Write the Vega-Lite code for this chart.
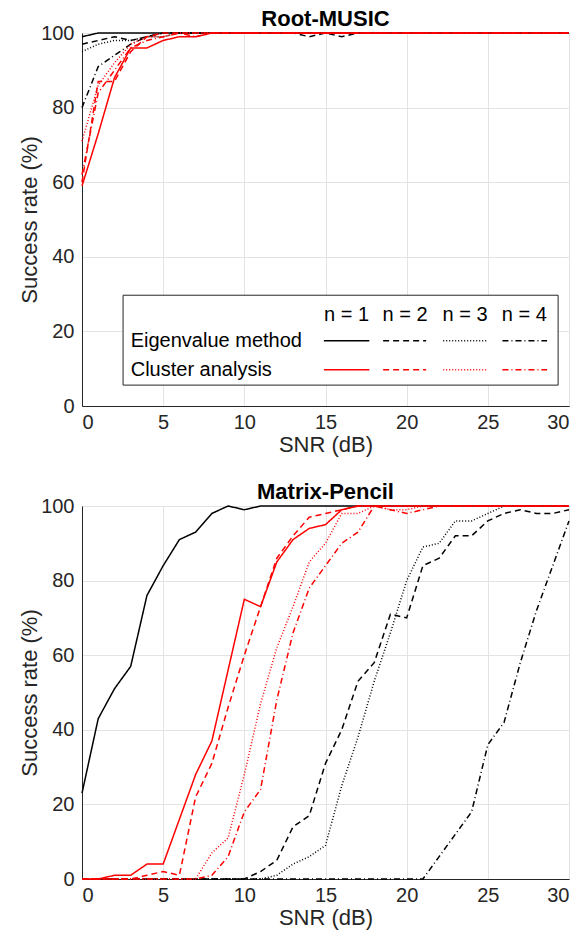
{
  "$schema": "https://vega.github.io/schema/vega-lite/v6.json",
  "padding": {"left": 18, "top": 7, "right": 5, "bottom": 5},
  "background": "white",
  "config": {
    "font": "Liberation Sans",
    "view": {"stroke": "#262626", "strokeWidth": 1},
    "axis": {
      "labelFont": "Liberation Sans", "labelFontSize": 20, "labelColor": "#262626",
      "titleFont": "Liberation Sans", "titleFontSize": 22, "titleFontWeight": "normal", "titleColor": "#262626",
      "gridColor": "#e3e3e3", "domainColor": "#262626", "ticks": false, "labelPadding": 8
    },
    "axisY": {"titlePadding": -1},
    "axisX": {"titlePadding": 2, "labelPadding": 6},
    "title": {"font": "Liberation Sans", "fontSize": 22, "fontWeight": "bold", "color": "#000000", "offset": -8},
    "concat": {"spacing": 24}
  },
  "datasets": {
    "music": [
      {"snr": 0, "E1": 99, "E2": 97, "E3": 95, "E4": 80, "C1": 59, "C2": 60, "C3": 71, "C4": 62},
      {"snr": 1, "E1": 100, "E2": 98, "E3": 97, "E4": 91, "C1": 73, "C2": 87, "C3": 86, "C4": 84},
      {"snr": 2, "E1": 100, "E2": 99, "E3": 98, "E4": 94, "C1": 88, "C2": 87, "C3": 92, "C4": 90},
      {"snr": 3, "E1": 100, "E2": 98, "E3": 98, "E4": 97, "C1": 96, "C2": 95, "C3": 97, "C4": 96},
      {"snr": 4, "E1": 100, "E2": 99, "E3": 99, "E4": 99, "C1": 96, "C2": 99, "C3": 99, "C4": 98},
      {"snr": 5, "E1": 100, "E2": 100, "E3": 99, "E4": 100, "C1": 98, "C2": 100, "C3": 99, "C4": 99},
      {"snr": 6, "E1": 100, "E2": 100, "E3": 100, "E4": 100, "C1": 99, "C2": 100, "C3": 100, "C4": 100},
      {"snr": 7, "E1": 100, "E2": 100, "E3": 100, "E4": 100, "C1": 99, "C2": 100, "C3": 100, "C4": 99},
      {"snr": 8, "E1": 100, "E2": 100, "E3": 100, "E4": 100, "C1": 100, "C2": 100, "C3": 100, "C4": 100},
      {"snr": 9, "E1": 100, "E2": 100, "E3": 100, "E4": 100, "C1": 100, "C2": 100, "C3": 100, "C4": 100},
      {"snr": 10, "E1": 100, "E2": 100, "E3": 100, "E4": 100, "C1": 100, "C2": 100, "C3": 100, "C4": 100},
      {"snr": 11, "E1": 100, "E2": 100, "E3": 100, "E4": 100, "C1": 100, "C2": 100, "C3": 100, "C4": 100},
      {"snr": 12, "E1": 100, "E2": 100, "E3": 100, "E4": 100, "C1": 100, "C2": 100, "C3": 100, "C4": 100},
      {"snr": 13, "E1": 100, "E2": 100, "E3": 100, "E4": 100, "C1": 100, "C2": 100, "C3": 100, "C4": 100},
      {"snr": 14, "E1": 100, "E2": 99, "E3": 100, "E4": 100, "C1": 100, "C2": 100, "C3": 100, "C4": 100},
      {"snr": 15, "E1": 100, "E2": 100, "E3": 100, "E4": 100, "C1": 100, "C2": 100, "C3": 100, "C4": 100},
      {"snr": 16, "E1": 100, "E2": 99, "E3": 100, "E4": 100, "C1": 100, "C2": 100, "C3": 100, "C4": 100},
      {"snr": 17, "E1": 100, "E2": 100, "E3": 100, "E4": 100, "C1": 100, "C2": 100, "C3": 100, "C4": 100},
      {"snr": 18, "E1": 100, "E2": 100, "E3": 100, "E4": 100, "C1": 100, "C2": 100, "C3": 100, "C4": 100},
      {"snr": 19, "E1": 100, "E2": 100, "E3": 100, "E4": 100, "C1": 100, "C2": 100, "C3": 100, "C4": 100},
      {"snr": 20, "E1": 100, "E2": 100, "E3": 100, "E4": 100, "C1": 100, "C2": 100, "C3": 100, "C4": 100},
      {"snr": 21, "E1": 100, "E2": 100, "E3": 100, "E4": 100, "C1": 100, "C2": 100, "C3": 100, "C4": 100},
      {"snr": 22, "E1": 100, "E2": 100, "E3": 100, "E4": 100, "C1": 100, "C2": 100, "C3": 100, "C4": 100},
      {"snr": 23, "E1": 100, "E2": 100, "E3": 100, "E4": 100, "C1": 100, "C2": 100, "C3": 100, "C4": 100},
      {"snr": 24, "E1": 100, "E2": 100, "E3": 100, "E4": 100, "C1": 100, "C2": 100, "C3": 100, "C4": 100},
      {"snr": 25, "E1": 100, "E2": 100, "E3": 100, "E4": 100, "C1": 100, "C2": 100, "C3": 100, "C4": 100},
      {"snr": 26, "E1": 100, "E2": 100, "E3": 100, "E4": 100, "C1": 100, "C2": 100, "C3": 100, "C4": 100},
      {"snr": 27, "E1": 100, "E2": 100, "E3": 100, "E4": 100, "C1": 100, "C2": 100, "C3": 100, "C4": 100},
      {"snr": 28, "E1": 100, "E2": 100, "E3": 100, "E4": 100, "C1": 100, "C2": 100, "C3": 100, "C4": 100},
      {"snr": 29, "E1": 100, "E2": 100, "E3": 100, "E4": 100, "C1": 100, "C2": 100, "C3": 100, "C4": 100},
      {"snr": 30, "E1": 100, "E2": 100, "E3": 100, "E4": 100, "C1": 100, "C2": 100, "C3": 100, "C4": 100}
    ],
    "pencil": [
      {"snr": 0, "E1": 23, "E2": 0, "E3": 0, "E4": 0, "C1": 0, "C2": 0, "C3": 0, "C4": 0},
      {"snr": 1, "E1": 43, "E2": 0, "E3": 0, "E4": 0, "C1": 0, "C2": 0, "C3": 0, "C4": 0},
      {"snr": 2, "E1": 51, "E2": 0, "E3": 0, "E4": 0, "C1": 1, "C2": 0, "C3": 0, "C4": 0},
      {"snr": 3, "E1": 57, "E2": 0, "E3": 0, "E4": 0, "C1": 1, "C2": 0, "C3": 0, "C4": 0},
      {"snr": 4, "E1": 76, "E2": 0, "E3": 0, "E4": 0, "C1": 4, "C2": 1, "C3": 0, "C4": 0},
      {"snr": 5, "E1": 84, "E2": 0, "E3": 0, "E4": 0, "C1": 4, "C2": 2, "C3": 0, "C4": 0},
      {"snr": 6, "E1": 91, "E2": 0, "E3": 0, "E4": 0, "C1": 16, "C2": 1, "C3": 0, "C4": 0},
      {"snr": 7, "E1": 93, "E2": 0, "E3": 0, "E4": 0, "C1": 28, "C2": 22, "C3": 0, "C4": 0},
      {"snr": 8, "E1": 98, "E2": 0, "E3": 0, "E4": 0, "C1": 37, "C2": 31, "C3": 7, "C4": 1},
      {"snr": 9, "E1": 100, "E2": 0, "E3": 0, "E4": 0, "C1": 56, "C2": 46, "C3": 11, "C4": 6},
      {"snr": 10, "E1": 99, "E2": 0, "E3": 0, "E4": 0, "C1": 75, "C2": 60, "C3": 28, "C4": 18},
      {"snr": 11, "E1": 100, "E2": 2, "E3": 0, "E4": 0, "C1": 73, "C2": 73, "C3": 47, "C4": 24},
      {"snr": 12, "E1": 100, "E2": 5, "E3": 1, "E4": 0, "C1": 85, "C2": 86, "C3": 62, "C4": 48},
      {"snr": 13, "E1": 100, "E2": 14, "E3": 4, "E4": 0, "C1": 91, "C2": 92, "C3": 73, "C4": 66},
      {"snr": 14, "E1": 100, "E2": 17, "E3": 6, "E4": 0, "C1": 94, "C2": 97, "C3": 85, "C4": 78},
      {"snr": 15, "E1": 100, "E2": 31, "E3": 9, "E4": 0, "C1": 95, "C2": 98, "C3": 90, "C4": 84},
      {"snr": 16, "E1": 100, "E2": 40, "E3": 25, "E4": 0, "C1": 99, "C2": 99, "C3": 98, "C4": 90},
      {"snr": 17, "E1": 100, "E2": 53, "E3": 38, "E4": 0, "C1": 100, "C2": 100, "C3": 98, "C4": 93},
      {"snr": 18, "E1": 100, "E2": 58, "E3": 53, "E4": 0, "C1": 100, "C2": 100, "C3": 100, "C4": 100},
      {"snr": 19, "E1": 100, "E2": 71, "E3": 66, "E4": 0, "C1": 100, "C2": 100, "C3": 99, "C4": 99},
      {"snr": 20, "E1": 100, "E2": 70, "E3": 80, "E4": 0, "C1": 100, "C2": 100, "C3": 99, "C4": 98},
      {"snr": 21, "E1": 100, "E2": 84, "E3": 89, "E4": 0, "C1": 100, "C2": 100, "C3": 100, "C4": 99},
      {"snr": 22, "E1": 100, "E2": 86, "E3": 90, "E4": 6, "C1": 100, "C2": 100, "C3": 100, "C4": 100},
      {"snr": 23, "E1": 100, "E2": 92, "E3": 96, "E4": 12, "C1": 100, "C2": 100, "C3": 100, "C4": 100},
      {"snr": 24, "E1": 100, "E2": 92, "E3": 96, "E4": 18, "C1": 100, "C2": 100, "C3": 100, "C4": 100},
      {"snr": 25, "E1": 100, "E2": 96, "E3": 98, "E4": 36, "C1": 100, "C2": 100, "C3": 100, "C4": 100},
      {"snr": 26, "E1": 100, "E2": 98, "E3": 100, "E4": 42, "C1": 100, "C2": 100, "C3": 100, "C4": 100},
      {"snr": 27, "E1": 100, "E2": 99, "E3": 100, "E4": 58, "C1": 100, "C2": 100, "C3": 100, "C4": 100},
      {"snr": 28, "E1": 100, "E2": 98, "E3": 100, "E4": 72, "C1": 100, "C2": 100, "C3": 100, "C4": 100},
      {"snr": 29, "E1": 100, "E2": 98, "E3": 100, "E4": 84, "C1": 100, "C2": 100, "C3": 100, "C4": 100},
      {"snr": 30, "E1": 100, "E2": 99, "E3": 100, "E4": 96, "C1": 100, "C2": 100, "C3": 100, "C4": 100}
    ],
    "legendBox": [{"x1": 2.53, "x2": 29.33, "y1": 5.6, "y2": 29.7}],
    "legendHead": [
      {"label": "n = 1", "x": 16.3, "y": 24.4},
      {"label": "n = 2", "x": 19.9, "y": 24.4},
      {"label": "n = 3", "x": 23.6, "y": 24.4},
      {"label": "n = 4", "x": 27.25, "y": 24.4}
    ],
    "legendRows": [
      {"label": "Eigenvalue method", "x": 3.0, "y": 17.5},
      {"label": "Cluster analysis", "x": 3.0, "y": 9.7}
    ],
    "legendSamples": [
      {"series": "E1", "x1": 14.9, "x2": 17.7, "y": 17.5},
      {"series": "E2", "x1": 18.55, "x2": 21.2, "y": 17.5},
      {"series": "E3", "x1": 22.25, "x2": 24.95, "y": 17.5},
      {"series": "E4", "x1": 25.9, "x2": 28.65, "y": 17.5},
      {"series": "C1", "x1": 14.9, "x2": 17.7, "y": 9.7},
      {"series": "C2", "x1": 18.55, "x2": 21.2, "y": 9.7},
      {"series": "C3", "x1": 22.25, "x2": 24.95, "y": 9.7},
      {"series": "C4", "x1": 25.9, "x2": 28.65, "y": 9.7}
    ]
  },
  "vconcat": [
    {
      "title": "Root-MUSIC",
      "width": 487,
      "height": 373,
      "encoding": {
        "x": {"type": "quantitative", "scale": {"domain": [0, 30], "nice": false}, "axis": {"title": "SNR (dB)", "values": [0, 5, 10, 15, 20, 25, 30]}},
        "y": {"type": "quantitative", "scale": {"domain": [0, 100], "nice": false}, "axis": {"title": "Success rate (%)", "values": [0, 20, 40, 60, 80, 100]}},
        "color": {"type": "nominal", "scale": {"domain": ["E1", "E2", "E3", "E4", "C1", "C2", "C3", "C4"], "range": ["#000000", "#000000", "#000000", "#000000", "#ff0000", "#ff0000", "#ff0000", "#ff0000"]}, "legend": null},
        "strokeDash": {"type": "nominal", "scale": {"domain": ["E1", "E2", "E3", "E4", "C1", "C2", "C3", "C4"], "range": [[1, 0], [6, 4], [1, 2], [6, 3, 1, 3], [1, 0], [6, 4], [1, 2], [6, 3, 1, 3]]}, "legend": null}
      },
      "layer": [
        {
          "data": {"name": "music"},
          "transform": [{"fold": ["E1", "E2", "E3", "E4"], "as": ["series", "rate"]}],
          "mark": {"type": "line", "strokeWidth": 1.5, "clip": false},
          "encoding": {"x": {"field": "snr"}, "y": {"field": "rate"}, "color": {"field": "series"}, "strokeDash": {"field": "series"}}
        },
        {
          "data": {"name": "music"},
          "transform": [{"fold": ["C1", "C2", "C3", "C4"], "as": ["series", "rate"]}],
          "mark": {"type": "line", "strokeWidth": 1.5, "clip": false},
          "encoding": {"x": {"field": "snr"}, "y": {"field": "rate"}, "color": {"field": "series"}, "strokeDash": {"field": "series"}}
        },
        {
          "data": {"name": "legendBox"},
          "mark": {"type": "rect", "fill": "white", "stroke": "#262626", "strokeWidth": 1},
          "encoding": {"x": {"field": "x1"}, "x2": {"field": "x2"}, "y": {"field": "y1"}, "y2": {"field": "y2"}}
        },
        {
          "data": {"name": "legendHead"},
          "mark": {"type": "text", "fontSize": 20, "align": "center", "baseline": "middle", "color": "#000000", "font": "Liberation Sans"},
          "encoding": {"x": {"field": "x"}, "y": {"field": "y"}, "text": {"field": "label"}}
        },
        {
          "data": {"name": "legendRows"},
          "mark": {"type": "text", "fontSize": 20, "align": "left", "baseline": "middle", "color": "#000000", "font": "Liberation Sans"},
          "encoding": {"x": {"field": "x"}, "y": {"field": "y"}, "text": {"field": "label"}}
        },
        {
          "data": {"name": "legendSamples"},
          "mark": {"type": "rule", "strokeWidth": 1.5},
          "encoding": {"x": {"field": "x1"}, "x2": {"field": "x2"}, "y": {"field": "y"}, "color": {"field": "series"}, "strokeDash": {"field": "series"}}
        }
      ]
    },
    {
      "title": "Matrix-Pencil",
      "width": 487,
      "height": 373,
      "encoding": {
        "x": {"type": "quantitative", "scale": {"domain": [0, 30], "nice": false}, "axis": {"title": "SNR (dB)", "values": [0, 5, 10, 15, 20, 25, 30]}},
        "y": {"type": "quantitative", "scale": {"domain": [0, 100], "nice": false}, "axis": {"title": "Success rate (%)", "values": [0, 20, 40, 60, 80, 100]}},
        "color": {"type": "nominal", "scale": {"domain": ["E1", "E2", "E3", "E4", "C1", "C2", "C3", "C4"], "range": ["#000000", "#000000", "#000000", "#000000", "#ff0000", "#ff0000", "#ff0000", "#ff0000"]}, "legend": null},
        "strokeDash": {"type": "nominal", "scale": {"domain": ["E1", "E2", "E3", "E4", "C1", "C2", "C3", "C4"], "range": [[1, 0], [6, 4], [1, 2], [6, 3, 1, 3], [1, 0], [6, 4], [1, 2], [6, 3, 1, 3]]}, "legend": null}
      },
      "layer": [
        {
          "data": {"name": "pencil"},
          "transform": [{"fold": ["E1", "E2", "E3", "E4"], "as": ["series", "rate"]}],
          "mark": {"type": "line", "strokeWidth": 1.5, "clip": false},
          "encoding": {"x": {"field": "snr"}, "y": {"field": "rate"}, "color": {"field": "series"}, "strokeDash": {"field": "series"}}
        },
        {
          "data": {"name": "pencil"},
          "transform": [{"fold": ["C1", "C2", "C3", "C4"], "as": ["series", "rate"]}],
          "mark": {"type": "line", "strokeWidth": 1.5, "clip": false},
          "encoding": {"x": {"field": "snr"}, "y": {"field": "rate"}, "color": {"field": "series"}, "strokeDash": {"field": "series"}}
        }
      ]
    }
  ]
}
